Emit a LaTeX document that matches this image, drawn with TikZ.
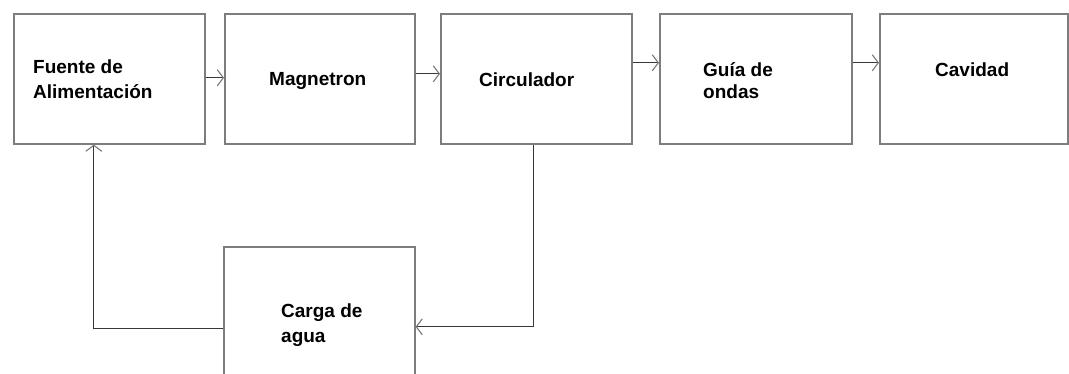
\documentclass[tikz,border=0pt]{standalone}
\usepackage{fontspec}
\setmainfont{Liberation Sans}
\usetikzlibrary{arrows.meta}
\definecolor{boxgray}{RGB}{125,125,125}
\definecolor{linegray}{RGB}{55,55,55}
\definecolor{tipgray}{RGB}{120,120,120}
\tikzset{
  blockbox/.style={draw=boxgray, line width=1.6pt, rectangle, inner sep=0pt, anchor=north west},
  conn/.style={draw=linegray, line width=1.1pt, -{Straight Barb[length=6pt,width=16pt,line width=1.1pt,color=tipgray]}},
  lbl/.style={font=\bfseries\fontsize{19}{25}\selectfont, inner sep=0pt, anchor=base west, align=left, text=black}
}
\begin{document}
\begin{tikzpicture}[x=1pt,y=1pt]
\useasboundingbox (0,0) rectangle (1069,-373);
\node[blockbox, minimum width=191pt, minimum height=130pt] (b1) at (13,-13) {};
\node[blockbox, minimum width=190pt, minimum height=130pt] (b2) at (224,-13) {};
\node[blockbox, minimum width=191pt, minimum height=130pt] (b3) at (440,-13) {};
\node[blockbox, minimum width=192pt, minimum height=130pt] (b4) at (659,-13) {};
\node[blockbox, minimum width=188pt, minimum height=130pt] (b5) at (879,-13) {};
\node[blockbox, minimum width=191pt, minimum height=134pt] (b6) at (223,-246) {};
\node[lbl] (t1) at (33,-98) {Fuente de\\Alimentación};
\node[lbl] (t2) at (269,-85) {Magnetron};
\node[lbl] (t3) at (479,-86) {Circulador};
\node[lbl] (t4) at (703,-98) {Guía de\\[-3pt]ondas};
\node[lbl] (t5) at (935,-76) {Cavidad};
\node[lbl] (t6) at (281,-342) {Carga de\\agua};
\draw[conn] ([yshift=1pt]b1.east) -- ([yshift=1pt]b2.west);
\draw[conn] ([yshift=5pt]b2.east) -- ([yshift=5pt]b3.west);
\draw[conn] ([yshift=16pt]b3.east) -- ([yshift=16pt]b4.west);
\draw[conn] ([yshift=16pt]b4.east) -- ([yshift=16pt]b5.west);
\draw[conn] ([xshift=-2.5pt]b3.south) |- ([yshift=-13pt]b6.east);
\draw[conn] ([yshift=-15pt]b6.west) -| ([xshift=-15.5pt]b1.south);
\end{tikzpicture}
\end{document}
